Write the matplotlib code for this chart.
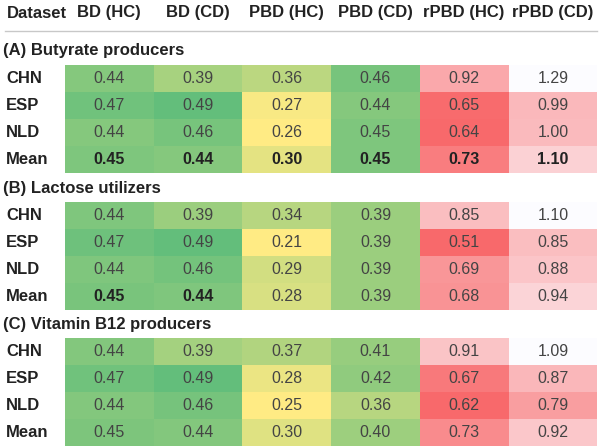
import numpy as np
import matplotlib
matplotlib.use("Agg")
import matplotlib.pyplot as plt
from matplotlib.colors import LinearSegmentedColormap, Normalize

plt.rcParams['font.family'] = ['Liberation Sans', 'DejaVu Sans']

# --- DATA ---
columns = ["BD (HC)", "BD (CD)", "PBD (HC)", "PBD (CD)", "rPBD (HC)", "rPBD (CD)"]
row_labels = ["CHN", "ESP", "NLD", "Mean"]
sections = ["(A) Butyrate producers", "(B) Lactose utilizers", "(C) Vitamin B12 producers"]

butyrate = [[0.44, 0.39, 0.36, 0.46, 0.92, 1.29],
            [0.47, 0.49, 0.27, 0.44, 0.65, 0.99],
            [0.44, 0.46, 0.26, 0.45, 0.64, 1.00],
            [0.45, 0.44, 0.30, 0.45, 0.73, 1.10]]
lactose = [[0.44, 0.39, 0.34, 0.39, 0.85, 1.10],
           [0.47, 0.49, 0.21, 0.39, 0.51, 0.85],
           [0.44, 0.46, 0.29, 0.39, 0.69, 0.88],
           [0.45, 0.44, 0.28, 0.39, 0.68, 0.94]]
b12 = [[0.44, 0.39, 0.37, 0.41, 0.91, 1.09],
       [0.47, 0.49, 0.28, 0.42, 0.67, 0.87],
       [0.44, 0.46, 0.25, 0.36, 0.62, 0.79],
       [0.45, 0.44, 0.30, 0.40, 0.73, 0.92]]
# which cells of the Mean row are bold
mean_bold = [[True, True, True, True, True, True],
             [True, True, False, False, False, False],
             [False, False, False, False, False, False]]

tables = [butyrate, lactose, b12]

# --- LAYOUT (pixels) ---
col_left, col_w = 65, 88.7
table_tops = [65, 202, 338]
row_h = 26.9
LABEL_FS = 12
VALUE_FS = 11.5

green = LinearSegmentedColormap.from_list("yg", ["#FFEB84", "#63BE7B"])
red = LinearSegmentedColormap.from_list("rw", ["#F8696B", "#FCFCFF"])

fig = plt.figure(figsize=(6, 4.47), dpi=100)
ax = fig.add_axes([0, 0, 1, 1])
ax.set_xlim(0, 600)
ax.set_ylim(447, 0)
ax.axis('off')

# header
ax.text(7, 13, "Dataset", fontsize=LABEL_FS, fontweight='bold', color='#222222',
        ha='left', va='center')
for j, name in enumerate(columns):
    ax.text(col_left + col_w * (j + 0.5), 13, name, fontsize=LABEL_FS, fontweight='bold',
            color='#222222', ha='center', va='center')
ax.plot([5, 597], [30.5, 30.5], color='#c8c8c8', lw=1)

for t, (vals, title, top) in enumerate(zip(tables, sections, table_tops)):
    vals = np.array(vals)
    ax.text(3, top - 14, title, fontsize=LABEL_FS, fontweight='bold', color='#222222',
            ha='left', va='center')
    ys = top + row_h * np.arange(len(row_labels) + 1)
    xs = col_left + col_w * np.arange(len(columns) + 1)

    g = vals[:, :4]
    r = vals[:, 4:]
    ax.pcolormesh(xs[:5], ys, g, cmap=green,
                  norm=Normalize(g.min(), g.max()), shading='flat')
    ax.pcolormesh(xs[4:], ys, r, cmap=red,
                  norm=Normalize(r.min(), r.max()), shading='flat')

    for i, lab in enumerate(row_labels):
        yc = top + row_h * (i + 0.5)
        ax.text(6, yc, lab, fontsize=LABEL_FS, fontweight='bold', color='#222222',
                ha='left', va='center')
        for j in range(len(columns)):
            bold = i == len(row_labels) - 1 and mean_bold[t][j]
            ax.text(col_left + col_w * (j + 0.5), yc, f"{vals[i, j]:.2f}",
                    fontsize=VALUE_FS, fontweight='bold' if bold else 'normal',
                    color='#222222' if bold else '#444444',
                    ha='center', va='center')

fig.savefig("out.png", dpi=100)
